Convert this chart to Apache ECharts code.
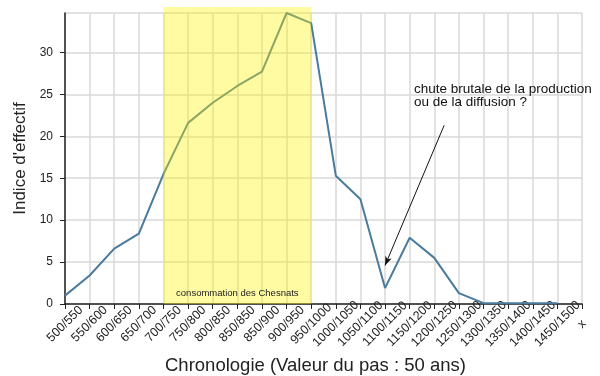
<!DOCTYPE html>
<html>
<head>
<meta charset="utf-8">
<script src="https://cdn.jsdelivr.net/npm/echarts@6/dist/echarts.min.js"></script>
<style>
   body { margin: 0; background: #fff; }
   #chart { width: 600px; height: 376px; }
</style>
</head>
<body>
<div id="chart"></div>
<script>

// periods (note the 850/850 as in the source)
const periods = [
   '500/550', '550/600', '600/650', '650/700', '700/750', '750/800',
   '800/850', '850/850', '850/900', '900/950', '950/1000', '1000/1050',
   '1050/1100', '1100/1150', '1150/1200', '1200/1250', '1250/1300',
   '1300/1350', '1350/1400', '1400/1450', '1450/1500', 'x'
];

const effectif = [
   1.0, 3.4, 6.6, 8.4, 15.5, 21.6, 24.0, 26.0, 27.7, 34.7, 33.5, 15.3,
   12.5, 1.9, 7.9, 5.5, 1.3, 0.1, 0.1, 0.1, 0.1
];

// band "consommation des Chesnats"
const bandFrom = '700/750';
const bandTo = '950/1000';

// arrow for the note, in [category index, value]
const arrowStart = [15.4, 21.3];
const arrowEnd = [13.0, 4.6];

const noteText = 'chute brutale de la production\nou de la diffusion ?';

const font = 'Liberation Sans, Arial, sans-serif';

var chart = echarts.init(document.getElementById('chart'));

chart.setOption({
   animation: false,
   textStyle: { fontFamily: font },
   grid: [
      { left: 65, right: 18, top: 13, bottom: 72, outerBoundsMode: 'none' },
      // band grid, a bit higher than the plot
      { left: 65, right: 18, top: 7, bottom: 72, outerBoundsMode: 'none' }
   ],
   xAxis: [
      {
         type: 'category',
         data: periods,
         boundaryGap: false,
         name: 'Chronologie (Valeur du pas : 50 ans)',
         nameLocation: 'middle',
         nameGap: 49,
         nameTextStyle: { fontSize: 18.5, color: '#222', fontFamily: font, padding: [0, 16, 0, 0] },
         axisLine: { lineStyle: { color: '#222', width: 1.5 } },
         axisTick: { show: true, length: 5, lineStyle: { color: '#222' } },
         axisLabel: {
            rotate: 45, fontSize: 12.5, color: '#222', interval: 0, margin: 20,
            align: 'center', verticalAlign: 'middle'
         },
         splitLine: { show: true, lineStyle: { color: '#d9d9d9', width: 1.5 } }
      },
      {
         type: 'value',
         min: 0,
         max: periods.length - 1,
         show: false
      },
      {
         type: 'category',
         gridIndex: 1,
         data: periods,
         boundaryGap: false,
         show: false
      }
   ],
   yAxis: [
      {
         type: 'value',
         min: 0,
         max: 34.7,
         interval: 5,
         name: "Indice d'effectif",
         nameLocation: 'middle',
         nameGap: 35,
         nameTextStyle: { fontSize: 17, color: '#222', fontFamily: font },
         axisLine: { show: true, lineStyle: { color: '#222', width: 1.5 } },
         axisTick: { show: true, length: 5, lineStyle: { color: '#222' } },
         axisLabel: { fontSize: 12, color: '#222', showMaxLabel: false, margin: 12 },
         splitLine: { lineStyle: { color: '#d9d9d9', width: 1.5 } }
      },
      {
         type: 'value',
         gridIndex: 1,
         min: 0,
         max: 1,
         show: false
      }
   ],
   series: [
      {
         type: 'line',
         data: effectif,
         symbol: 'none',
         z: 2,
         lineStyle: { color: '#4a7a9c', width: 2 }
      },
      {
         type: 'line',
         xAxisIndex: 2,
         yAxisIndex: 1,
         data: [],
         z: 4,
         markArea: {
            silent: true,
            z: 4,
            itemStyle: { color: 'rgba(255,245,0,0.36)' },
            label: {
               show: true,
               position: 'insideBottom',
               distance: 6,
               fontSize: 9.5,
               color: '#222',
               fontFamily: font
            },
            data: [[
               { name: 'consommation des Chesnats', xAxis: bandFrom, yAxis: 0 },
               { xAxis: bandTo, yAxis: 1 }
            ]]
         }
      },
      {
         type: 'line',
         xAxisIndex: 1,
         data: [],
         z: 5,
         clip: false,
         markLine: {
            silent: true,
            symbol: ['none', 'arrow'],
            symbolSize: [5, 9],
            label: { show: false },
            lineStyle: { color: '#111', width: 1, type: 'solid' },
            data: [[ { coord: arrowStart }, { coord: arrowEnd } ]]
         }
      }
   ],
   graphic: [
      {
         type: 'text',
         left: 414,
         top: 82,
         z: 10,
         style: { text: noteText, font: '13.5px ' + font, fill: '#111', lineHeight: 13 }
      }
   ]
});

</script>
</body>
</html>
